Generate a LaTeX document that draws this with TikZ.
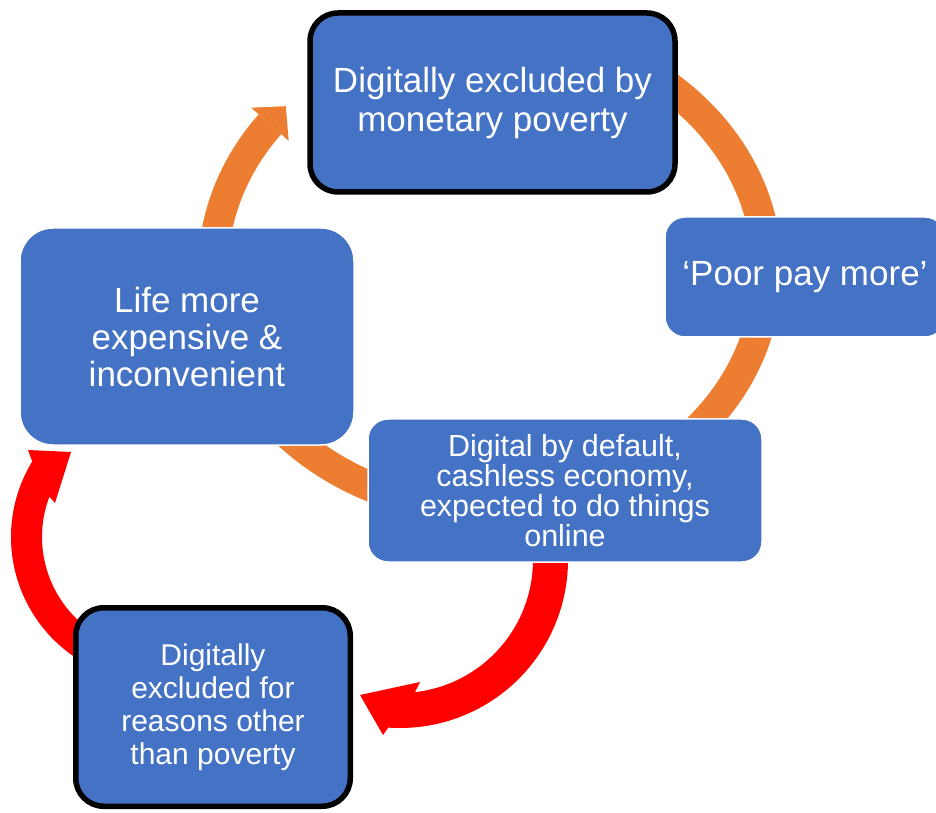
\documentclass[tikz,border=0pt]{standalone}
\usepackage{fontspec}
\setmainfont{Liberation Sans}
\usetikzlibrary{calc}
\definecolor{boxblue}{HTML}{4472C4}
\definecolor{arrorange}{HTML}{ED7D31}
\definecolor{arrred}{HTML}{FF0000}
\begin{document}
\begin{tikzpicture}[x=1pt,y=1pt,
  box/.style={draw=white, line width=1.5pt, fill=boxblue, text=white, align=center, inner sep=0pt},
  darkbox/.style={box, draw=black, line width=5.5pt},
  ringarrow/.style={draw=arrorange, line width=30pt},
]
\useasboundingbox (0,0) rectangle (936,812);
\clip (0,0) rectangle (936,812);

% centres of the curved arrows
\coordinate (ringc) at (490,542);
\coordinate (redAc) at (400,252);
\coordinate (redBc) at (156,275);

% orange ring arrow
\draw[ringarrow] ($(ringc)+(80:277pt and 240pt)$) arc[start angle=80, end angle=-217.4, x radius=277pt, y radius=240pt];
\fill[arrorange] (251.2,704.3) -- (285.8,705.8) -- (288.7,671.2) -- cycle;

% red arrow: digital by default -> other reasons
\fill[arrred] ($(redAc)+(10:168pt)$) arc[start angle=10, end angle=-94, radius=168pt]
  -- (383,77) -- (360,117) -- (420,130)
  -- ($(redAc)+(-83.5:133pt)$) arc[start angle=-83.5, end angle=10, radius=133pt] -- cycle;

% red arrow: other reasons -> life more expensive
\fill[arrred] ($(redBc)+(-110:145pt)$) arc[start angle=-110, end angle=-211.4, radius=145pt]
  -- (28,362) -- (71,360) -- (55,309)
  -- ($(redBc)+(-200.7:114pt)$) arc[start angle=-200.7, end angle=-110, radius=114pt] -- cycle;

% boxes
\node[darkbox, minimum width=365pt, minimum height=179pt, rounded corners=28pt,
  font={\fontsize{35}{39}\selectfont}] (mon) at (492.5,709.5)
  {Digitally excluded by\\monetary poverty};
\node[box, minimum width=280pt, minimum height=120pt, rounded corners=20pt,
  font={\fontsize{35}{39}\selectfont}] (poor) at (805,535)
  {‘Poor pay more’};
\node[box, minimum width=334pt, minimum height=217pt, rounded corners=33pt,
  font={\fontsize{35}{37}\selectfont}] (life) at (187,475.5)
  {Life more\\expensive \&\\inconvenient};
\node[box, minimum width=394pt, minimum height=143pt, rounded corners=20pt,
  font={\fontsize{30.5}{30}\selectfont}] (digital) at (565,321.5)
  {Digital by default,\\cashless economy,\\expected to do things\\online};
\node[darkbox, minimum width=274.5pt, minimum height=198.5pt, rounded corners=28pt,
  font={\fontsize{30}{33}\selectfont}] (other) at (213,105)
  {Digitally\\excluded for\\reasons other\\than poverty};
\end{tikzpicture}
\end{document}
